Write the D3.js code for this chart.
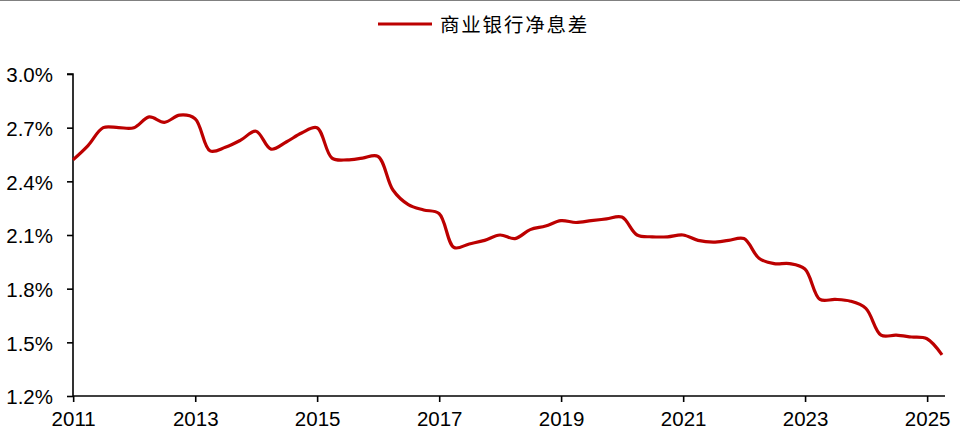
<!DOCTYPE html>
<html><head><meta charset="utf-8">
<script src="https://cdn.jsdelivr.net/npm/d3@7/dist/d3.min.js"></script>
<style>
html,body{margin:0;padding:0;background:#fff;}
svg{display:block;}
</style></head>
<body>
<svg id="chart" width="960" height="438"></svg>
<script>
// Quarter-end dates (2010Q4 ... 2025Q1)
const quarters = [];
for (let yy = 2010, q = 4; !(yy === 2025 && q === 2); ) {
  quarters.push(yy + "Q" + q);
  q++; if (q > 4) { q = 1; yy++; }
}
const seriesName = "商业银行净息差";
const nim = [
  2.52, 2.60, 2.70, 2.70, 2.70, 2.76, 2.73, 2.77, 2.75,
  2.57, 2.59, 2.63, 2.68, 2.58, 2.62, 2.67, 2.70,
  2.53, 2.52, 2.53, 2.54, 2.35, 2.27, 2.24, 2.22,
  2.03, 2.05, 2.07, 2.10, 2.08, 2.13, 2.15, 2.18,
  2.17, 2.18, 2.19, 2.20, 2.10, 2.09, 2.09, 2.10,
  2.07, 2.06, 2.07, 2.08, 1.97, 1.94, 1.94, 1.91,
  1.74, 1.74, 1.73, 1.69, 1.54, 1.54, 1.53, 1.52,
  1.43
];
const yTicks = [1.2, 1.5, 1.8, 2.1, 2.4, 2.7, 3.0];
const xTickYears = [2011, 2013, 2015, 2017, 2019, 2021, 2023, 2025];

function qEnd(s) {
  const yr = +s.slice(0, 4), q = +s.slice(5);
  return new Date(yr, q * 3, 0); // last day of quarter
}
const data = quarters.map((q, i) => ({ date: qEnd(q), v: nim[i] }));

const svg = d3.select("#chart");
const mLeft = 73, mRight = 942, mTop = 74, mBottom = 396;

const x = d3.scaleTime()
  .domain([data[0].date, data[data.length - 1].date])
  .range([mLeft, mRight]);
const y = d3.scaleLinear().domain([1.2, 3.0]).range([mBottom, mTop]);

// top border line
svg.append("line").attr("x1", 0).attr("x2", 960).attr("y1", 0.5).attr("y2", 0.5)
  .attr("stroke", "#808080").attr("stroke-width", 1);

// Y axis
const yAxis = d3.axisLeft(y).tickValues(yTicks).tickSize(6)
  .tickFormat(d => d.toFixed(1) + "%");
const gy = svg.append("g").attr("transform", `translate(${mLeft},0)`).call(yAxis);
gy.select(".domain").attr("stroke", "#000").attr("stroke-width", 1.6)
  .attr("d", `M-6,${mTop}H0V${mBottom}`);
gy.selectAll(".tick line").attr("stroke", "#000").attr("stroke-width", 1.6);
gy.selectAll(".tick text").attr("x", -20).attr("dy", "0.38em")
  .attr("font-family", "Liberation Sans, Arial, sans-serif")
  .attr("font-size", 20.5).attr("fill", "#000");

// X axis
const xAxis = d3.axisBottom(x)
  .tickValues(xTickYears.map(yr => new Date(yr, 0, 1)))
  .tickSize(6).tickFormat(d3.timeFormat("%Y"));
const gx = svg.append("g").attr("transform", `translate(0,${mBottom})`).call(xAxis);
gx.select(".domain").attr("stroke", "#000").attr("stroke-width", 1.6)
  .attr("d", `M${mLeft},0H${mRight + 3}`);
gx.selectAll(".tick line").attr("stroke", "#000").attr("stroke-width", 1.6);
gx.selectAll(".tick text").attr("y", 15).attr("dy", "0.71em")
  .attr("font-family", "Liberation Sans, Arial, sans-serif")
  .attr("font-size", 20.5).attr("fill", "#000");

// line
const line = d3.line().x(d => x(d.date)).y(d => y(d.v)).curve(d3.curveCatmullRom.alpha(0.5));
svg.append("path").datum(data).attr("d", line)
  .attr("fill", "none").attr("stroke", "#BC0000").attr("stroke-width", 3.2)
  .attr("stroke-linejoin", "round").attr("stroke-linecap", "butt");

// legend
const lg = svg.append("g");
lg.append("line").attr("x1", 378).attr("x2", 432).attr("y1", 24).attr("y2", 24)
  .attr("stroke", "#BC0000").attr("stroke-width", 3.2);
lg.append("text").attr("x", 440).attr("y", 32)
  .attr("font-family", "Noto Sans CJK SC, sans-serif")
  .attr("font-size", 19.5).attr("letter-spacing", 1.8).attr("fill", "#000")
  .text(seriesName);
</script>
</body></html>
